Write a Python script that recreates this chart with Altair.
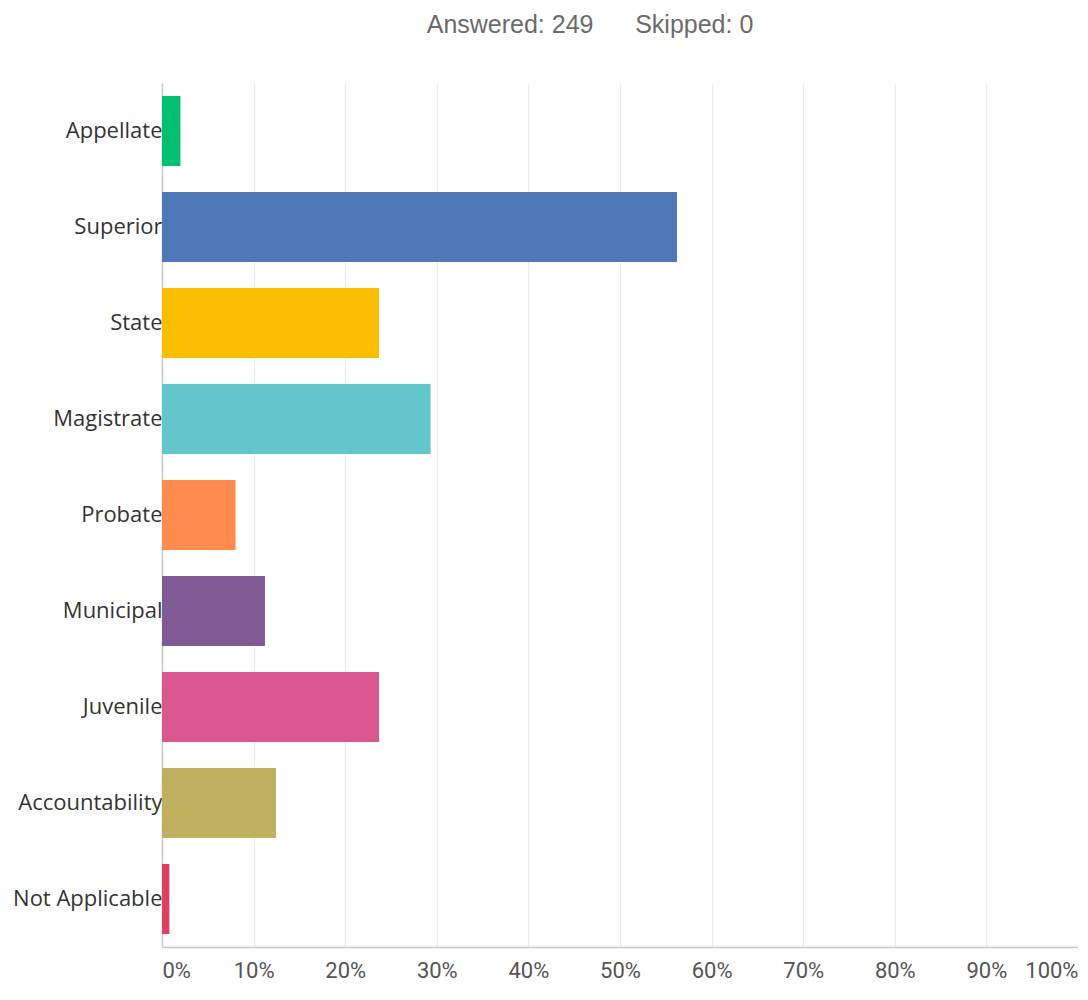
import altair as alt
import pandas as pd

categories = ["Appellate", "Superior", "State", "Magistrate", "Probate",
              "Municipal", "Juvenile", "Accountability", "Not Applicable"]
percent = [2.01, 56.22, 23.69, 29.32, 8.03, 11.24, 23.69, 12.45, 0.80]
colors = ["#00BF6F", "#4F78B8", "#F9BE00", "#62C6CA", "#FF8B4F",
          "#7F5A95", "#D9568F", "#BFB160", "#DE3F5F"]
x_ticks = [0, 10, 20, 30, 40, 50, 60, 70, 80, 90, 100]

df = pd.DataFrame({"category": categories, "percent": [p / 100 for p in percent]})

chart = alt.Chart(df).mark_bar().encode(
    x=alt.X("percent:Q",
            scale=alt.Scale(domain=[0, 1], nice=False),
            axis=alt.Axis(values=[t / 100 for t in x_ticks], format=".0%", title=None,
                          ticks=False, labelFontSize=22, labelFont="Roboto",
                          labelColor="#555555", labelPadding=13,
                          labelFlush=True, domainColor="#c8c8c8", domainWidth=1.5,
                          gridColor="#ececec", gridWidth=1.2)),
    y=alt.Y("category:N", sort=categories,
            scale=alt.Scale(paddingInner=0.27, paddingOuter=0.135),
            axis=alt.Axis(title=None, ticks=False, labelFontSize=22,
                          labelFont="Open Sans", labelColor="#333333",
                          labelPadding=0, domainColor="#c8c8c8", domainWidth=1.5,
                          grid=False)),
    color=alt.Color("category:N", scale=alt.Scale(domain=categories, range=colors),
                    legend=None),
).properties(
    width=916,
    height=864,
    autosize=alt.AutoSizeParams(type="none"),
    padding={"left": 154, "top": 75, "right": 0, "bottom": 36},
    title=alt.TitleParams(
        "Answered: 249\u00a0\u00a0\u00a0\u00a0\u00a0\u00a0Skipped: 0",
        fontSize=25, font="Liberation Sans", fontWeight="normal",
        color="#6b6b6b", anchor="middle", dx=-30, offset=45),
).configure_view(stroke=None)

chart.save("out.html", embed_options={"renderer": "svg", "actions": False})
